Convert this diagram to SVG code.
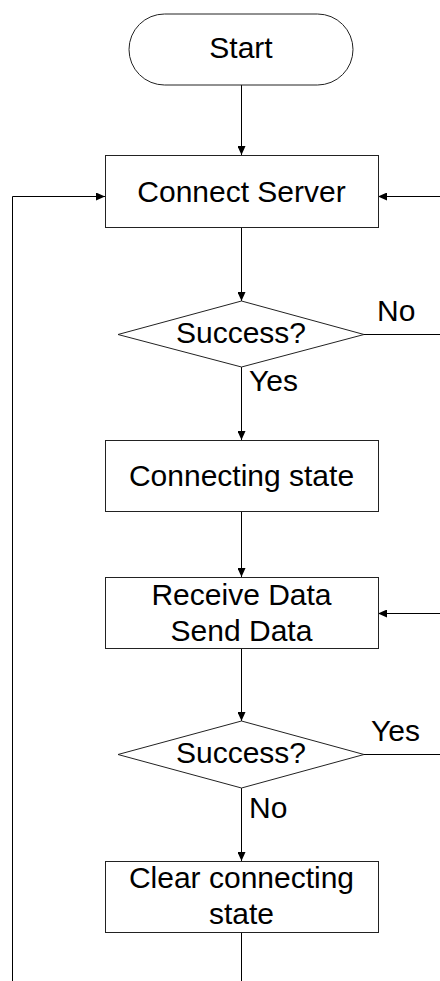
<svg xmlns="http://www.w3.org/2000/svg" width="440" height="981" viewBox="0 0 440 981">
<defs>
<marker id="arr" markerWidth="9" markerHeight="8" refX="9" refY="4" orient="auto" markerUnits="userSpaceOnUse">
<path d="M0,0 L9,4 L0,8 Z" fill="#000"/>
</marker>
<style>
.shape{fill:#fff;stroke:#222;stroke-width:1}
.t{font-family:"Liberation Sans",Arial,sans-serif;font-size:30px;fill:#000;text-anchor:middle}
.l{font-family:"Liberation Sans",Arial,sans-serif;font-size:30px;fill:#000}
.c{fill:none;stroke:#000;stroke-width:1}
</style>
</defs>
<rect width="440" height="981" fill="#fff"/>
<g id="connectors">
<path class="c" d="M241.5,85 V155" marker-end="url(#arr)"/>
<path class="c" d="M241.5,227 V301" marker-end="url(#arr)"/>
<path class="c" d="M241.5,367 V440" marker-end="url(#arr)"/>
<path class="c" d="M241.5,511 V577" marker-end="url(#arr)"/>
<path class="c" d="M241.5,648 V721" marker-end="url(#arr)"/>
<path class="c" d="M241.5,788 V861" marker-end="url(#arr)"/>
<path class="c" d="M241.5,932 V981"/>
<path class="c" d="M12.5,981 V196.5 H105" marker-end="url(#arr)"/>
<path class="c" d="M364,334.5 H440"/>
<path class="c" d="M440,196.5 H378" marker-end="url(#arr)"/>
<path class="c" d="M364,754.5 H440"/>
<path class="c" d="M440,613.5 H378" marker-end="url(#arr)"/>
<text class="l" x="377" y="321">No</text>
<text class="l" x="249" y="391">Yes</text>
<text class="l" x="371" y="741">Yes</text>
<text class="l" x="249" y="818">No</text>
</g>
<g id="start">
<rect class="shape" x="129" y="14" width="224" height="71" rx="35.5" ry="35.5"/>
<text class="t" x="241" y="58">Start</text>
</g>
<g id="connect-server">
<rect class="shape" x="105.5" y="155.5" width="273" height="72"/>
<text class="t" x="241.5" y="202">Connect Server</text>
</g>
<g id="success1">
<polygon class="shape" points="241.5,301 364,334.5 241.5,367 118,334.5"/>
<text class="t" x="241" y="343">Success?</text>
</g>
<g id="connecting-state">
<rect class="shape" x="105.5" y="440.5" width="273" height="71"/>
<text class="t" x="241.5" y="486">Connecting state</text>
</g>
<g id="receive-send">
<rect class="shape" x="105.5" y="577.5" width="273" height="71"/>
<text class="t" x="241.5" y="605">Receive Data</text>
<text class="t" x="241.5" y="641">Send Data</text>
</g>
<g id="success2">
<polygon class="shape" points="241.5,721 364,754.5 241.5,788 118,754.5"/>
<text class="t" x="241" y="763">Success?</text>
</g>
<g id="clear-state">
<rect class="shape" x="105.5" y="861.5" width="273" height="71"/>
<text class="t" x="241.5" y="888">Clear connecting</text>
<text class="t" x="241.5" y="924">state</text>
</g>
</svg>
